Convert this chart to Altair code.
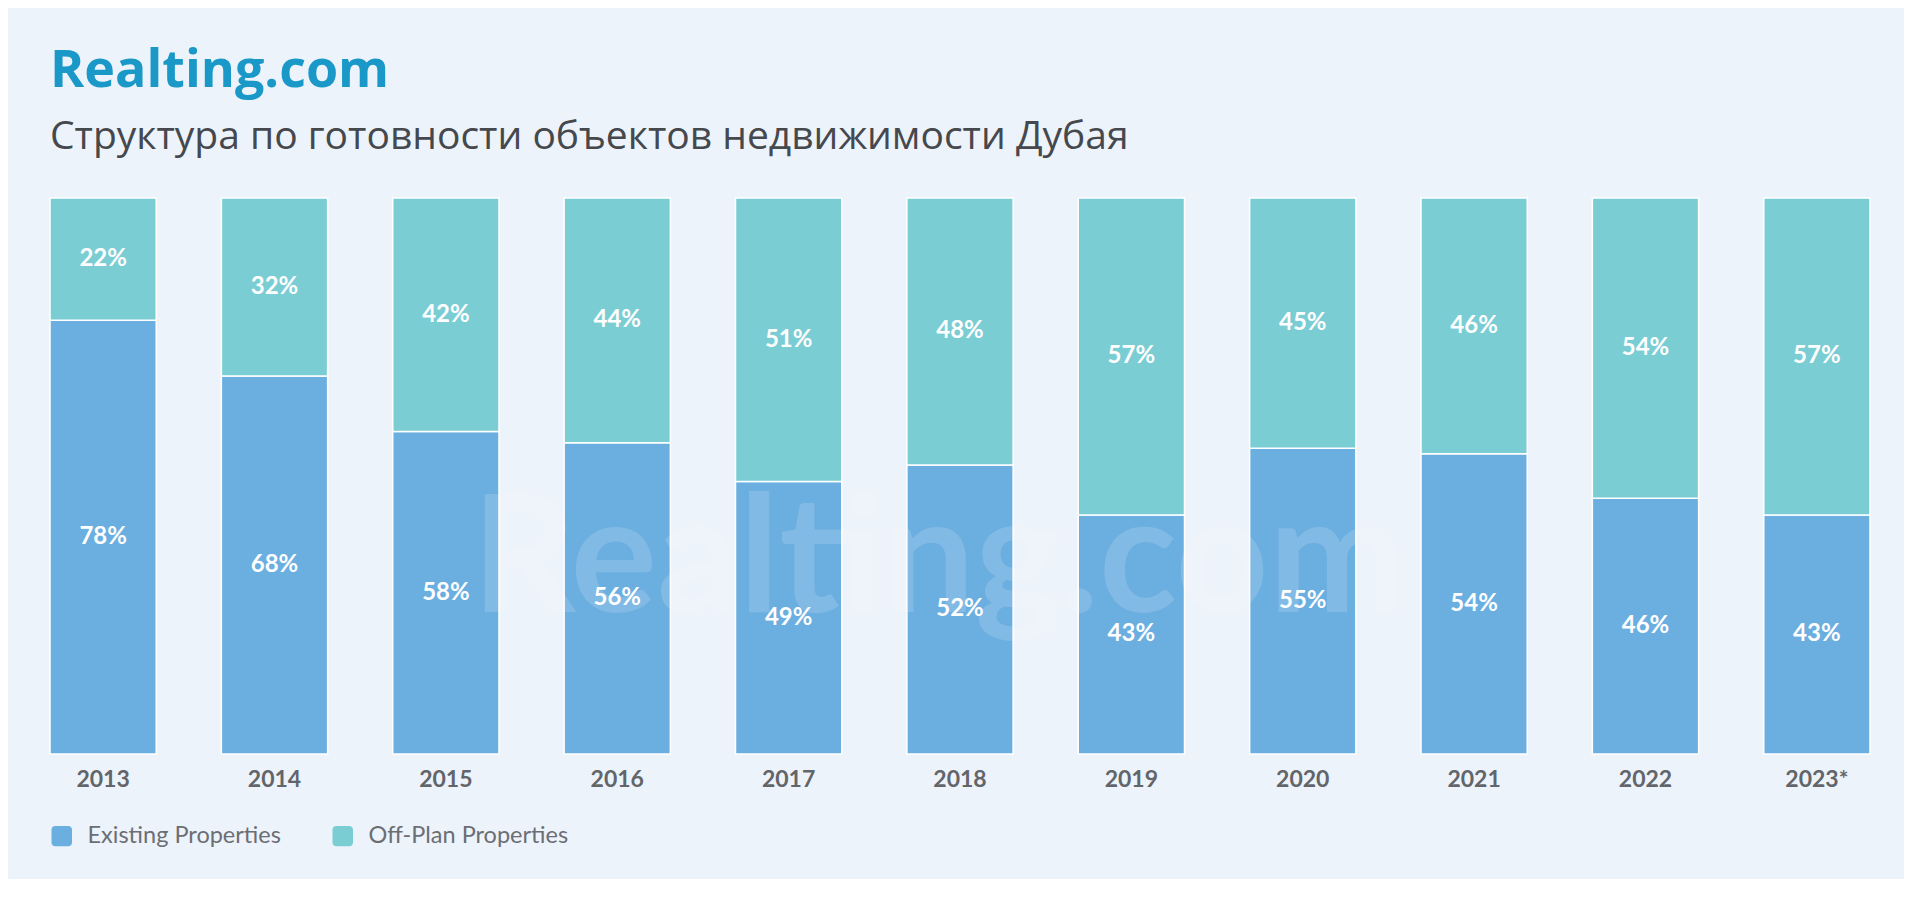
import altair as alt
import pandas as pd

years = ["2013", "2014", "2015", "2016", "2017", "2018", "2019", "2020", "2021", "2022", "2023*"]
existing = [78, 68, 58, 56, 49, 52, 43, 55, 54, 46, 43]
off_plan = [22, 32, 42, 44, 51, 48, 57, 45, 46, 54, 57]
series = ["Existing Properties", "Off-Plan Properties"]
colors = ["#6BAEE0", "#7BCDD4"]

rows = []
for i, yr in enumerate(years):
    rows.append({"year": yr, "type": series[0], "value": existing[i], "ord": 0})
    rows.append({"year": yr, "type": series[1], "value": off_plan[i], "ord": 1})
df = pd.DataFrame(rows)

FONT = "Lato"
W, H = 1820, 556

base = alt.Chart(df).transform_stack(
    stack="value", groupby=["year"], as_=["v0", "v1"],
    sort=[alt.SortField("ord", order="ascending")]
).transform_calculate(
    mid="(datum.v0 + datum.v1) / 2",
    label="datum.value + '%'"
)

x_enc = alt.X(
    "year:N", sort=years,
    scale=alt.Scale(paddingInner=0.38, paddingOuter=0),
    axis=alt.Axis(title=None, labelAngle=0, ticks=False, domain=False, grid=False,
                  labelFontSize=23, labelFont=FONT, labelFontWeight="bold",
                  labelColor="#626569", labelPadding=14),
)
y_scale = alt.Scale(domain=[0, 100], nice=False, zero=True)

rounded = ("M -0.6,-1 H 0.6 Q 1,-1 1,-0.6 V 0.6 Q 1,1 0.6,1 H -0.6 "
           "Q -1,1 -1,0.6 V -0.6 Q -1,-1 -0.6,-1 Z")

bars = base.mark_bar(stroke="white", strokeWidth=1.5).encode(
    x=x_enc,
    y=alt.Y("v0:Q", scale=y_scale, axis=None),
    y2="v1:Q",
    color=alt.Color(
        "type:N", scale=alt.Scale(domain=series, range=colors),
        legend=alt.Legend(
            title=None, orient="none", legendX=0, legendY=626,
            direction="horizontal", symbolType=rounded, symbolSize=420,
            symbolStrokeWidth=0, labelFont=FONT, labelFontSize=23.5,
            labelColor="#6b6e73", labelOffset=14, columnPadding=50,
            labelLimit=0,
        ),
    ),
)

labels = base.mark_text(
    color="white", font=FONT, fontSize=24, fontWeight="bold",
    align="center", baseline="middle",
).encode(
    x=alt.X("year:N", sort=years),
    y=alt.Y("mid:Q", scale=y_scale),
    text="label:N",
)

watermark = alt.Chart(pd.DataFrame({"t": ["Realting.com"]})).mark_text(
    font=FONT, fontSize=162, fontWeight="bold", color="white", opacity=0.15,
    align="center", baseline="alphabetic",
).encode(
    x=alt.value(W / 2 - 22), y=alt.value(414), text="t:N"
)

chart = alt.layer(bars, watermark, labels).properties(
    width=W, height=H,
    autosize=alt.AutoSizeParams(type="none"),
    padding={"left": 42, "top": 190, "right": 34, "bottom": 125},
    background="#EDF3FB",
    title=alt.TitleParams(
        text="Realting.com",
        subtitle="Структура по готовности объектов недвижимости Дубая",
        anchor="start", frame="group", offset=39,
        font="Open Sans", fontSize=52, fontWeight="bold", color="#1A99C8",
        subtitleFont="Open Sans", subtitleFontSize=39, subtitleFontWeight="normal",
        subtitleColor="#45484d", subtitlePadding=20,
    ),
).configure_view(stroke=None)

chart.save("out.html", embed_options={"renderer": "svg", "actions": False})
